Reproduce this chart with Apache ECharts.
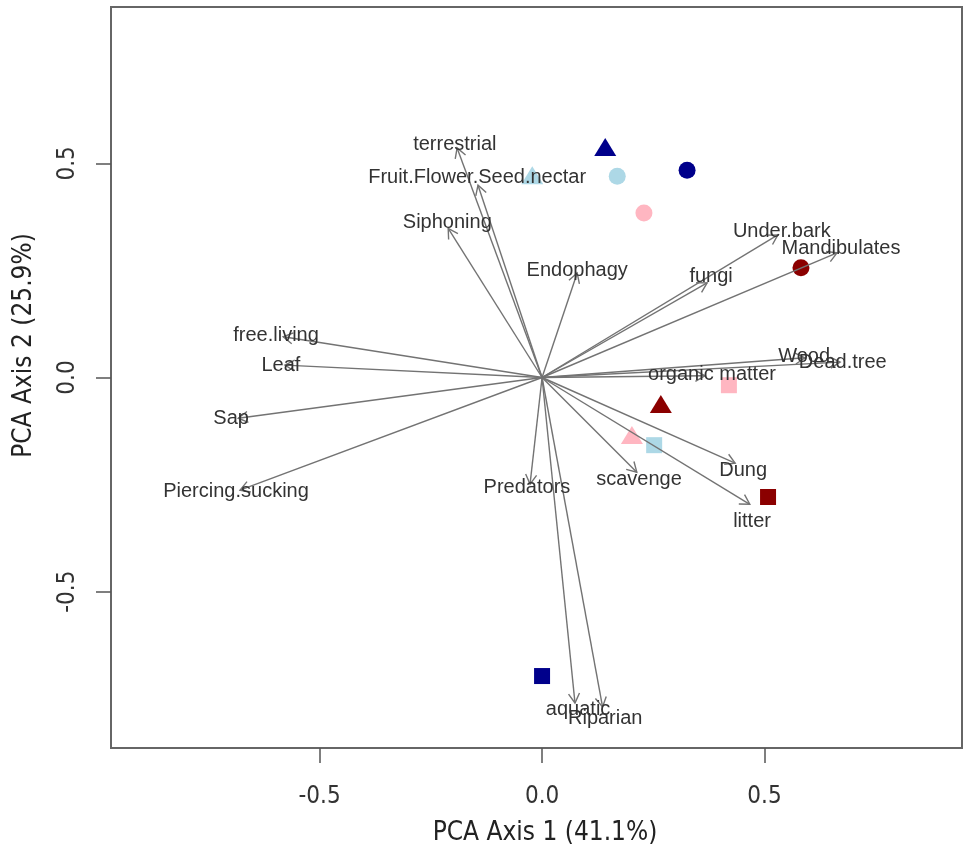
<!DOCTYPE html>
<html>
<head>
<meta charset="utf-8">
<script src="https://cdn.jsdelivr.net/npm/echarts@6/dist/echarts.min.js"></script>
<style>html,body{margin:0;padding:0;background:#fff;}#chart{width:964px;height:854px;}</style>
</head>
<body>
<div id="chart"></div>
<script>
// ---- Variable loadings (arrows) ----
const varNames = ['terrestrial','Fruit.Flower.Seed.nectar','Siphoning','Endophagy','fungi','Under.bark','Mandibulates','Wood','Dead.tree','organic matter','Dung','litter','scavenge','Predators','aquatic','Riparian','free.living','Leaf','Sap','Piercing.sucking'];
const arrowX = [-0.191,-0.144,-0.211,0.079,0.371,0.530,0.663,0.591,0.670,0.366,0.434,0.467,0.213,-0.027,0.074,0.136,-0.582,-0.578,-0.683,-0.679];
const arrowY = [0.536,0.449,0.348,0.244,0.221,0.333,0.291,0.046,0.036,0.004,-0.200,-0.296,-0.221,-0.249,-0.760,-0.769,0.095,0.029,-0.095,-0.263];
const labelX = [-0.196,-0.146,-0.213,0.079,0.380,0.539,0.672,0.589,0.676,0.382,0.452,0.472,0.218,-0.034,0.081,0.142,-0.598,-0.587,-0.699,-0.688];
const labelY = [0.545,0.466,0.361,0.251,0.235,0.340,0.302,0.048,0.034,0.006,-0.218,-0.335,-0.237,-0.256,-0.776,-0.797,0.099,0.029,-0.095,-0.267];

// ---- Site scores ----
const siteX = [0.142,-0.022,0.169,0.326,0.229,0.582,0.420,0.267,0.202,0.252,0.508,0.000];
const siteY = [0.538,0.472,0.470,0.484,0.384,0.256,-0.018,-0.062,-0.134,-0.158,-0.279,-0.697];
const siteGroup = ['navy','lightblue','lightblue','navy','pink','darkred','pink','darkred','pink','lightblue','darkred','navy'];
const siteType = ['T','T','C','C','C','C','S','T','T','S','S','S'];

// ---- Axes ----
const xTicks = [-0.5, 0, 0.5];
const xTickLabels = ['-0.5','0.0','0.5'];
const yTicks = [-0.5, 0, 0.5];
const yTickLabels = ['-0.5','0.0','0.5'];
const xTitle = 'PCA Axis 1 (41.1%)';
const yTitle = 'PCA Axis 2 (25.9%)';

// ---- Styles ----
const groupColor = {navy:'#00008B', lightblue:'#ADD8E6', pink:'#FFB6C1', darkred:'#8B0000'};
const typeSymbol = {T:'triangle', C:'circle', S:'rect'};
const typeSize = {T:[22,18], C:17, S:16};
const narrow = "'Liberation Sans Narrow','DejaVu Sans Condensed','Liberation Sans',sans-serif";
const lineCol = '#737373';

const chart = echarts.init(document.getElementById('chart'));

const siteData = siteX.map((x,i)=>({
  value:[x, siteY[i]],
  symbol: typeSymbol[siteType[i]],
  symbolSize: typeSize[siteType[i]],
  itemStyle:{color: groupColor[siteGroup[i]], opacity:1}
}));

const arrowData = arrowX.map((x,i)=>[x, arrowY[i]]);
const labelData = labelX.map((x,i)=>({name: varNames[i], value:[x, labelY[i]]}));

function fmt(ticks, labels){ return function(v){ for (let i=0;i<ticks.length;i++){ if (Math.abs(ticks[i]-v)<1e-9) return labels[i]; } return ''; }; }

chart.setOption({
  animation:false,
  backgroundColor:'#fff',
  grid:{left:111, top:7, right:2, bottom:106, show:true, borderColor:'#666', borderWidth:2, backgroundColor:'transparent'},
  xAxis:{
    type:'value', min:-0.969, max:0.944,
    name:xTitle, nameLocation:'middle', nameGap:72,
    nameTextStyle:{fontFamily:narrow, fontSize:26, color:'#222', padding:[0,0,0,17]},
    axisLine:{show:false, onZero:false},
    splitLine:{show:false},
    axisTick:{show:true, inside:false, length:15, customValues:xTicks, lineStyle:{color:'#555', width:1.5}},
    axisLabel:{customValues:xTicks, formatter:fmt(xTicks,xTickLabels), margin:37, fontFamily:narrow, fontSize:24, color:'#333'}
  },
  yAxis:{
    type:'value', min:-0.865, max:0.865,
    name:yTitle, nameLocation:'middle', nameGap:74, nameRotate:90,
    nameTextStyle:{fontFamily:narrow, fontSize:26, color:'#222', padding:[0,0,0,64]},
    axisLine:{show:false, onZero:false},
    splitLine:{show:false},
    axisTick:{show:true, inside:false, length:15, customValues:yTicks, lineStyle:{color:'#555', width:1.5}},
    axisLabel:{customValues:yTicks, formatter:fmt(yTicks,yTickLabels), rotate:90, margin:31, fontFamily:narrow, fontSize:24, color:'#333'}
  },
  series:[
    {
      type:'scatter', name:'sites', data:siteData, z:1, silent:true
    },
    {
      type:'custom', name:'loadings', data:arrowData, z:2, silent:true,
      renderItem:function(params, api){
        const o = api.coord([0,0]);
        const t = api.coord([api.value(0), api.value(1)]);
        const ang = Math.atan2(t[1]-o[1], t[0]-o[0]);
        const L = 11, a = Math.PI/6;
        const p1 = [t[0]-L*Math.cos(ang-a), t[1]-L*Math.sin(ang-a)];
        const p2 = [t[0]-L*Math.cos(ang+a), t[1]-L*Math.sin(ang+a)];
        return {type:'group', children:[
          {type:'line', shape:{x1:o[0],y1:o[1],x2:t[0],y2:t[1]}, style:{stroke:lineCol, lineWidth:1.4}},
          {type:'polyline', shape:{points:[p1,t,p2]}, style:{stroke:lineCol, lineWidth:1.4, fill:null}}
        ]};
      }
    },
    {
      type:'scatter', name:'labels', data:labelData, symbolSize:0, z:3, silent:true,
      itemStyle:{opacity:1},
      label:{show:true, position:'inside', formatter:'{b}', fontFamily:"'Liberation Sans',Arial,sans-serif", fontSize:20, color:'#333'}
    }
  ]
});
</script>
</body>
</html>
